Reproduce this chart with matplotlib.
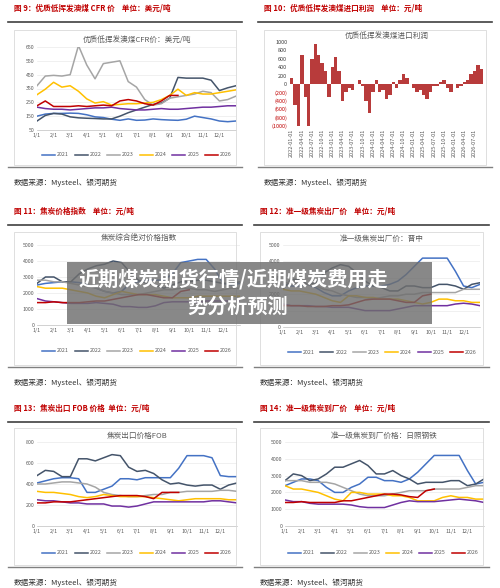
import numpy as np
import matplotlib
matplotlib.use("Agg")
import matplotlib.pyplot as plt
from matplotlib.patches import Rectangle

plt.rcParams['font.family'] = ['Noto Sans CJK SC', 'DejaVu Sans']

YEARS = ["2021", "2022", "2023", "2024", "2025", "2026"]
COLORS = ["#4472C4", "#44546A", "#A5A5A5", "#FFC000", "#7030A0", "#C00000"]
MONTHS = ["1/1", "2/1", "3/1", "4/1", "5/1", "6/1", "7/1", "8/1", "9/1", "10/1", "11/1", "12/1"]

# 图9 CFR, semi-monthly points
CFR_2021 = [150,165,170,170,172,170,160,145,140,128,120,130,120,122,130,125,122,120,128,150,140,130,115,110,115]
CFR_2022 = [115,155,170,165,145,138,135,133,130,130,150,175,195,215,235,245,280,430,425,425,425,410,335,355,370]
CFR_2023 = [370,440,445,440,450,660,520,420,530,540,550,400,360,270,230,240,280,290,300,310,330,320,260,270,295]
CFR_2024 = [305,345,395,360,370,330,275,245,255,230,235,240,240,245,250,270,300,345,300,320,310,310,320,330,340]
CFR_2025 = [215,205,200,200,195,200,205,210,210,215,205,200,195,195,200,205,200,200,205,210,215,215,220,225,225]
CFR_2026 = [225,260,220,220,220,225,220,225,230,225,260,270,260,240,230,260,300,300]

# 图10 import profit, monthly 2022-01 .. 2026-09
PROFIT = [150,-500,-1000,700,-300,-1000,600,950,700,500,300,-300,
          400,650,300,-400,-200,-100,-150,0,100,-50,-400,-700,
          -200,100,-200,-150,-350,-250,50,-100,100,250,150,0,
          -100,-200,-150,-250,-350,-200,-50,-50,50,100,-100,-200,
          0,-100,-50,50,100,250,300,450,350]
PROFIT_TICKS = ["2022-01-01","2022-04-01","2022-07-01","2022-10-01","2023-01-01","2023-04-01",
                "2023-07-01","2023-10-01","2024-01-01","2024-04-01","2024-07-01","2024-10-01",
                "2025-01-01","2025-04-01","2025-07-01","2025-10-01","2026-01-01","2026-04-01","2026-07-01"]

# 图11 焦炭综合价格指数
IDX_2021 = [2500,2600,2650,2700,2700,2650,2500,2300,2100,2000,2100,2600,2700,2800,2800,2800,3200,3900,4000,4100,4100,3500,2600,2500,2600]
IDX_2022 = [2600,3000,3000,2700,2700,3200,3500,3700,3800,4000,3900,3300,2800,2600,2500,2300,2500,2700,2700,2800,2800,2700,2600,2600,2700]
IDX_2023 = [2800,2800,2700,2700,2600,2500,2400,2300,2100,2000,1900,1900,1900,2000,2100,2200,2200,2300,2300,2200,2200,2100,2200,2300,2300]
IDX_2024 = [2400,2300,2300,2300,2200,2100,2000,1800,1700,1900,2100,2000,1900,1900,1900,1800,1700,1700,1700,1800,1800,1800,1800,1800,1800]
IDX_2025 = [1650,1500,1450,1400,1350,1350,1350,1400,1350,1300,1150,1150,1100,1100,1200,1400,1450,1450,1450,1400,1500,1500,1500,1500,1500]
IDX_2026 = [1400,1400,1450,1400,1400,1400,1450,1500,1500,1600,1700,1800,1900,1900,1800,1700,1700,2100,2200]

# 图12 准一级焦炭出厂价 晋中
JZ_2021 = [2600,2500,2500,2600,2400,2100,1900,1900,2200,2400,2500,2500,2500,2600,2800,3200,3700,4200,4200,4200,4200,3400,2500,2400,2600]
JZ_2022 = [2300,2900,2900,2600,2700,3300,3600,3800,3700,3300,2800,2500,2400,2200,2200,2500,2500,2400,2400,2600,2600,2500,2300,2600,2700]
JZ_2023 = [2700,2700,2600,2600,2500,2300,2200,2000,1900,1800,1800,1700,1800,1900,1900,2000,2000,2100,2100,2100,2100,2100,2300,2300,2300]
JZ_2024 = [2300,2200,2200,2100,2000,1800,1600,1500,1900,1900,1800,1800,1700,1700,1700,1600,1500,1400,1500,1700,1700,1600,1600,1500,1500]
JZ_2025 = [1400,1300,1300,1300,1250,1250,1200,1200,1200,1100,1000,1000,1000,1000,1100,1200,1300,1300,1300,1300,1300,1400,1450,1400,1300]
JZ_2026 = [1300,1300,1300,1250,1250,1250,1300,1300,1350,1500,1650,1700,1700,1700,1600,1500,1500,1900,2000]

# 图13 焦炭出口FOB
FOB_2021 = [410,430,450,460,460,450,320,320,350,380,450,450,440,460,460,460,460,550,670,670,670,650,480,470,470]
FOB_2022 = [480,530,520,470,470,640,640,620,650,680,670,560,520,530,500,440,400,410,390,380,390,390,350,390,410]
FOB_2023 = [400,400,410,420,420,410,400,370,320,300,290,280,280,290,300,300,320,320,330,330,330,330,340,340,330]
FOB_2024 = [330,320,320,310,300,280,270,280,300,290,280,280,280,280,270,260,250,240,250,260,260,260,260,250,250]
FOB_2025 = [250,240,240,230,220,220,210,210,210,190,190,180,190,210,230,230,230,230,230,230,230,240,240,230,220]
FOB_2026 = [220,220,230,230,230,240,250,260,270,280,290,290,290,280,260,320,320,320]

# 图14 准一级焦炭到厂价 日照钢铁
RZ_2021 = [2400,2600,2800,2800,2700,2300,2000,2000,2300,2500,2900,2900,2700,2700,2600,2800,3200,3700,4200,4200,4200,4200,3300,2500,2600]
RZ_2022 = [2700,3100,3000,2700,2800,3100,3500,3500,3700,3900,3600,3100,3100,3300,3000,2800,2500,2600,2600,2600,2700,2700,2400,2500,2800]
RZ_2023 = [2700,2700,2700,2600,2600,2600,2500,2300,2100,1900,1800,1800,1800,1900,2000,2100,2100,2100,2200,2200,2200,2200,2300,2400,2400]
RZ_2024 = [2400,2200,2200,2100,2000,1800,1600,1500,2000,2000,1900,1900,1900,1800,1800,1700,1500,1500,1500,1700,1800,1700,1700,1600,1600]
RZ_2025 = [1550,1450,1450,1350,1300,1300,1300,1300,1250,1150,1100,1100,1100,1250,1400,1500,1450,1450,1450,1500,1550,1600,1550,1500,1400]
RZ_2026 = [1400,1400,1450,1400,1400,1400,1400,1500,1500,1600,1700,1800,1900,1900,1850,1750,1700,2100,2200]

W, H = 500, 588
fig = plt.figure(figsize=(W/100, H/100), dpi=100)
RED = "#C00000"

def px_axes(x0, y0, x1, y1):
    return fig.add_axes([x0/W, 1-y1/H, (x1-x0)/W, (y1-y0)/H])

def frame(x0, title, yt, box_top, box_bot, x1):
    fig.text((x0+6)/W, 1-yt/H, title, color=RED, fontsize=5.5, fontweight="bold", va="center")
    fig.add_artist(plt.Line2D([x0/W, x1/W], [1-(yt+14)/H]*2, color="#404040", lw=1.2))
    fig.add_artist(Rectangle(((x0+6)/W, 1-box_bot/H), (x1-x0-12)/W, (box_bot-box_top)/H,
                             fill=False, ec="#D9D9D9", lw=0.6))
    fig.add_artist(plt.Line2D([x0/W, x1/W], [1-(box_bot+2)/H]*2, color="#808080", lw=1.0))
    fig.text((x0+6)/W, 1-(box_bot+18)/H, "数据来源：Mysteel、银河期货", fontsize=5.5, color="#333333", va="center")

def line_panel(rect, series, ylim, yticks, subtitle, leg_y, leg_x0, leg_x1):
    ax = px_axes(*rect)
    for vals, c in zip(series, COLORS):
        x = np.arange(len(vals)) * 0.5
        ax.plot(x, vals, color=c, lw=1.1)
    ax.set_xlim(0, 12)
    ax.set_ylim(*ylim)
    ax.set_yticks(yticks)
    ax.set_xticks(range(12))
    ax.set_xticklabels(MONTHS)
    ax.tick_params(labelsize=3.8, length=0, colors="#595959", pad=2)
    ax.grid(axis="y", color="#E5E5E5", lw=0.4)
    for s in ["top", "right", "left"]:
        ax.spines[s].set_visible(False)
    ax.spines["bottom"].set_color("#BFBFBF")
    ax.spines["bottom"].set_linewidth(0.5)
    ax.set_title(subtitle, fontsize=5.5, color="#595959", pad=3)
    xs = np.linspace(leg_x0, leg_x1, 6)
    for xx, c, yr in zip(xs, COLORS, YEARS):
        fig.add_artist(plt.Line2D([xx/W, (xx+13)/W], [1-leg_y/H]*2, color=c, lw=1.1))
        fig.text((xx+15)/W, 1-leg_y/H, yr, fontsize=3.8, color="#595959", va="center")
    return ax

# top row
frame(8, "图 9：优质低挥发澳煤 CFR 价    单位：美元/吨", 8, 30, 165, 242)
frame(258, "图 10：优质低挥发澳煤进口利润    单位：元/吨", 8, 30, 165, 492)
line_panel((37, 47, 236, 130), [CFR_2021, CFR_2022, CFR_2023, CFR_2024, CFR_2025, CFR_2026],
           (50, 650), [50,150,250,350,450,550,650], "优质低挥发澳煤CFR价：美元/吨", 155, 42, 205)

ax = px_axes(290, 42, 483, 126)
ax.bar(np.arange(len(PROFIT)), PROFIT, width=1.0, color="#B83B3B")
ax.set_xlim(-0.5, len(PROFIT) - 0.5)
ax.set_ylim(-1000, 1000)
yt = [1000,800,600,400,200,0,-200,-400,-600,-800,-1000]
ax.set_yticks(yt)
ax.set_yticklabels([str(v) if v >= 0 else "(%d)" % -v for v in yt])
for lab, v in zip(ax.get_yticklabels(), yt):
    lab.set_color(RED if v < 0 else "#404040")
ax.set_xticks(np.arange(0, len(PROFIT), 3))
ax.set_xticklabels(PROFIT_TICKS, rotation=90)
ax.tick_params(labelsize=4, length=0, pad=2)
ax.tick_params(axis="x", colors="#595959")
for s in ["top", "right", "left", "bottom"]:
    ax.spines[s].set_visible(False)
ax.set_title("优质低挥发澳煤进口利润", fontsize=5.5, color="#595959", pad=3)

# middle row
frame(8, "图 11：焦炭价格指数    单位：元/吨", 211, 232, 365, 242)
frame(254, "图 12：准一级焦炭出厂价    单位：元/吨", 211, 232, 365, 489)
line_panel((37, 245, 240, 325), [IDX_2021, IDX_2022, IDX_2023, IDX_2024, IDX_2025, IDX_2026],
           (0, 5000), range(0, 5001, 1000), "焦炭综合绝对价格指数", 351, 42, 205)
line_panel((283, 245, 480, 327), [JZ_2021, JZ_2022, JZ_2023, JZ_2024, JZ_2025, JZ_2026],
           (0, 5000), range(0, 5001, 1000), "准一级焦炭出厂价：晋中", 352, 288, 450)

# bottom row
frame(8, "图 13：焦炭出口 FOB 价格  单位：元/吨", 408, 428, 565, 242)
frame(254, "图 14：准一级焦炭到厂价    单位：元/吨", 408, 428, 565, 489)
line_panel((37, 442, 237, 526), [FOB_2021, FOB_2022, FOB_2023, FOB_2024, FOB_2025, FOB_2026],
           (0, 800), range(0, 801, 200), "焦炭出口价格FOB", 553, 42, 205)
line_panel((285, 442, 484, 526), [RZ_2021, RZ_2022, RZ_2023, RZ_2024, RZ_2025, RZ_2026],
           (0, 5000), range(0, 5001, 1000), "准一级焦炭到厂价格：日照钢铁", 553, 288, 452)

# overlay banner
fig.add_artist(Rectangle((67/W, 1-324/H), (432-67)/W, 62/H, color="#6E6E6E", alpha=0.82, lw=0))
fig.text(78/W, 1-279/H, "近期煤炭期货行情/近期煤炭费用走", color="white", fontsize=14.5,
         fontweight="bold", ha="left", va="center")
fig.text(238/W, 1-306/H, "势分析预测", color="white", fontsize=14.5, fontweight="bold", ha="center", va="center")

fig.savefig("out.png", dpi=100, facecolor="white")
